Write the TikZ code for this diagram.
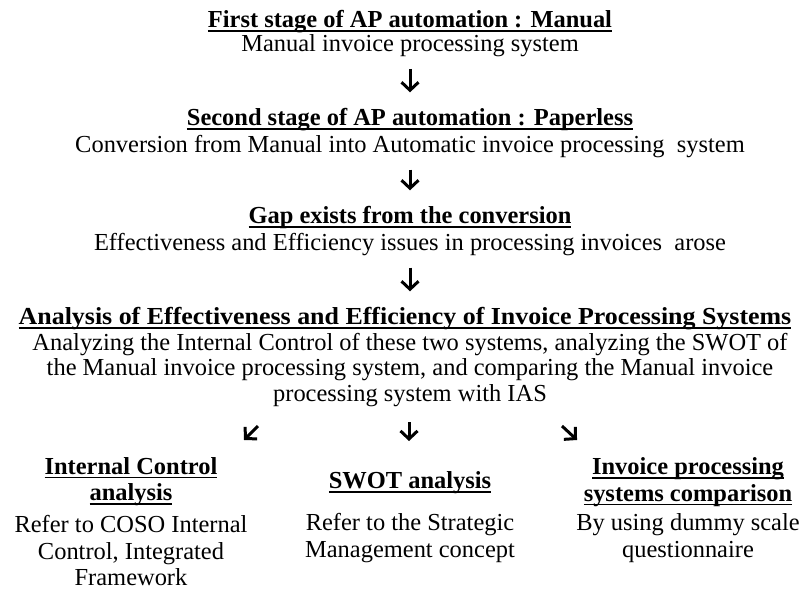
\documentclass[tikz,border=0pt]{standalone}
\usepackage{fontspec}
\setmainfont{Liberation Serif}
\usetikzlibrary{arrows.meta}
\newcommand\ulbf[1]{\setbox0\hbox{\bfseries #1}\rlap{\rule[-4.2pt]{\wd0}{1.7pt}}\box0}
\begin{document}
\begin{tikzpicture}[x=1pt,y=-1pt,
  txt/.style={align=center, font=\fontsize{24.45}{26.5}\selectfont, inner sep=0pt},
  arr/.style={-{Straight Barb[length=8pt,width=17pt]}, line width=3pt}]
\useasboundingbox (0,0) rectangle (802,591);
\node[txt] (n1) at (410,33.5) {\ulbf{First stage of AP automation : Manual}\\[-2.5pt]Manual invoice processing system};
\node[txt] (n2) at (410,133) {\ulbf{Second stage of AP automation : Paperless}\\Conversion from Manual into Automatic invoice processing\ \ system};
\node[txt] (n3) at (410,231) {\ulbf{Gap exists from the conversion}\\Effectiveness and Efficiency issues in processing invoices\ \ arose};
\node[txt] (n4) at (410,357) {\hspace*{-10pt}\scalebox{1.06}[1]{\ulbf{Analysis of Effectiveness and Efficiency of Invoice Processing Systems}}\\[-1pt]Analyzing the Internal Control of these two systems, analyzing the SWOT of\\[-1pt]the Manual invoice processing system, and comparing the Manual invoice\\[-1pt]processing system with IAS};
\node[txt] (b1t) at (131,481.5) {\ulbf{Internal Control}\\\ulbf{analysis}};
\node[txt] (b1) at (131,551) {Refer to COSO Internal\\Control, Integrated\\Framework};
\node[txt] (b2t) at (410,482.5) {\ulbf{SWOT analysis}};
\node[txt] (b2) at (410,538) {Refer to the Strategic\\Management concept};
\node[txt] (b3t) at (688,482) {\ulbf{Invoice processing}\\\ulbf{systems comparison}};
\node[txt] (b3) at (688,538) {By using dummy scale\\questionnaire};
\coordinate (l1) at (258,426); \coordinate (l2) at (244,440);
\coordinate (m1) at (409,422); \coordinate (m2) at (409,441);
\coordinate (r1) at (562,426); \coordinate (r2) at (577,440);
\draw[arr, shorten <=12pt, shorten >=16pt] (n1) -- (n2);
\draw[arr, shorten <=12pt, shorten >=16pt] (n2) -- (n3);
\draw[arr, shorten <=12pt, shorten >=16pt] (n3) -- (n4);
\draw[arr] (l1) -- (l2);
\draw[arr] (m1) -- (m2);
\draw[arr] (r1) -- (r2);
\end{tikzpicture}
\end{document}
